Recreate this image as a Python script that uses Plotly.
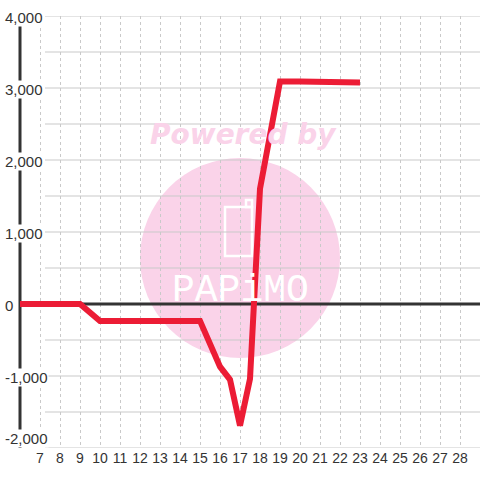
import plotly.graph_objects as go

# ---- data ----
hours = [6, 7, 8, 9, 10, 11, 12, 13, 14, 15, 16, 16.5, 17, 17.5, 18, 19, 20, 21, 21.5, 22, 23]
values = [0, 0, 0, 0, -235, -235, -235, -235, -235, -235, -870, -1050, -1690, -1040, 1600,
          3090, 3090, 3090, 3075, 3075, 3075]

x_tick_values = list(range(7, 29))
x_tick_labels = [str(v) for v in x_tick_values]
y_tick_values = [4000, 3000, 2000, 1000, 0, -1000, -2000]
y_tick_labels = ["4,000", "3,000", "2,000", "1,000", "0", "-1,000", "-2,000"]
y_grid_values = [4000, 3500, 3000, 2500, 2000, 1500, 1000, 500, -500, -1000, -1500, -2000]

X_RANGE = [5, 29]
Y_RANGE = [-2000, 4000]

W, H = 480, 480
M_T, M_B = 16, 32
PLOT_H = H - M_T - M_B

def py(pix):  # pixel y -> paper y
    return (H - M_B - pix) / PLOT_H

def px(pix):
    return pix / W

PINK = "#fad3e9"
RED = "#ec1c35"
AX = "#333333"
GRID = "#c9c9c9"

fig = go.Figure()
fig.add_trace(go.Scatter(x=hours, y=values, mode="lines",
                         line=dict(color=RED, width=6), hoverinfo="skip",
                         showlegend=False))

shapes = []
# watermark circle
shapes.append(dict(type="circle", xref="paper", yref="paper",
                   x0=px(140), x1=px(340), y0=py(358), y1=py(158),
                   fillcolor=PINK, line=dict(width=0), layer="below"))
# watermark icon
shapes.append(dict(type="rect", xref="paper", yref="paper",
                   x0=px(225), x1=px(252), y0=py(256), y1=py(207),
                   line=dict(color="white", width=2.5), layer="below"))
shapes.append(dict(type="rect", xref="paper", yref="paper",
                   x0=px(246), x1=px(252), y0=py(207), y1=py(200),
                   line=dict(color="white", width=2.5), layer="below"))
# horizontal grid lines starting after labels
for v in y_grid_values:
    shapes.append(dict(type="line", xref="paper", yref="y",
                       x0=px(45), x1=1, y0=v, y1=v,
                       line=dict(color=GRID, width=1), layer="between"))
# zero line
shapes.append(dict(type="line", xref="x", yref="y", x0=6, x1=X_RANGE[1], y0=0, y1=0,
                   line=dict(color=AX, width=3), layer="between"))
# y axis line
shapes.append(dict(type="line", xref="x", yref="paper", x0=6, x1=6, y0=0, y1=1,
                   line=dict(color=AX, width=3), layer="between"))

annotations = []
for v, lab in zip(y_tick_values, y_tick_labels):
    annotations.append(dict(xref="paper", yref="y", x=px(4), y=v, text=lab,
                            showarrow=False, xanchor="left",
                            yanchor="bottom" if v == Y_RANGE[0] else "middle",
                            yshift=0 if v == Y_RANGE[0] else -1,
                            bgcolor="white", borderpad=0,
                            font=dict(family="Liberation Sans", size=15, color=AX)))
annotations.append(dict(xref="paper", yref="paper", x=px(243), y=py(135),
                        text="<b><i>Powered by</i></b>", showarrow=False,
                        xanchor="center", yanchor="middle",
                        font=dict(family="DejaVu Sans", size=28, color=PINK)))
annotations.append(dict(xref="paper", yref="paper", x=px(240), y=py(290),
                        text="PAPiMO", showarrow=False,
                        xanchor="center", yanchor="middle",
                        font=dict(family="Liberation Mono", size=38, color="white")))

fig.update_layout(
    width=W, height=H,
    margin=dict(l=0, r=0, t=M_T, b=M_B),
    paper_bgcolor="white", plot_bgcolor="white",
    shapes=shapes, annotations=annotations,
    xaxis=dict(range=X_RANGE, tickvals=x_tick_values, ticktext=x_tick_labels,
               showgrid=True, gridcolor=GRID, griddash="3px,3px", gridwidth=1,
               zeroline=False, showline=False, ticks="",
               tickfont=dict(family="Liberation Sans", size=14, color=AX)),
    yaxis=dict(range=Y_RANGE, showgrid=False, zeroline=False, showline=False,
               showticklabels=False, ticks=""),
    showlegend=False,
)

fig.write_html("out.html", config={"displayModeBar": False},
               post_script="document.body.style.margin='0';")
